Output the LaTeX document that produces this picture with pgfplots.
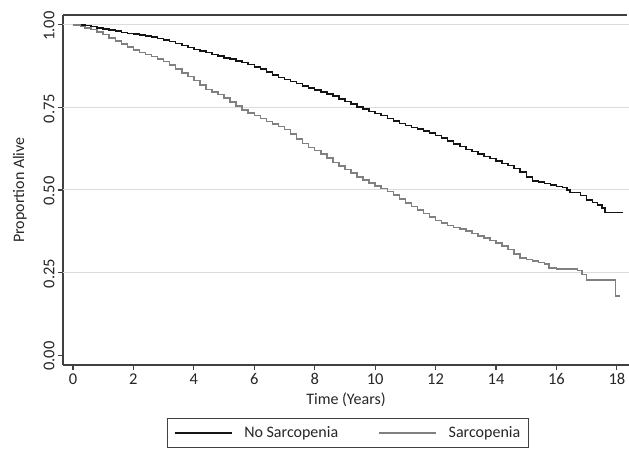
\documentclass[border=0pt]{standalone}
\usepackage{fontspec}
\setmainfont{Carlito}
\usepackage{pgfplots}
\pgfplotsset{compat=1.18}
\definecolor{axgray}{HTML}{404040}
\definecolor{gridgray}{HTML}{DCDCDC}
\definecolor{curvegray}{HTML}{808080}
\definecolor{curveblack}{HTML}{141414}
\begin{document}
\begin{tikzpicture}
\begin{axis}[
  scale only axis,
  width=566pt, height=350pt,
  xmin=-0.33, xmax=18.4,
  ymin=-0.03, ymax=1.03,
  axis lines=left,
  axis line style={-, draw=axgray, line width=1.1pt},
  tick style={draw=axgray, line width=1.1pt},
  tick align=outside,
  major tick length=5pt,
  xtick={0,2,...,18},
  ytick={0,0.25,0.5,0.75,1},
  yticklabels={0.00,0.25,0.50,0.75,1.00},
  extra y ticks={0.25,0.5,0.75,1},
  extra y tick labels={},
  extra y tick style={grid=major, major tick length=0pt, major grid style={draw=gridgray, line width=1pt}},
  /pgf/number format/assume math mode=true,
  ticklabel style={font=\fontsize{16.5}{19}\selectfont, text=black!85},
  yticklabel style={rotate=90, anchor=south, xshift=-1pt},
  xlabel={Time (Years)},
  ylabel={Proportion Alive},
  label style={font=\fontsize{16}{19}\selectfont, text=black!85},
  xlabel style={yshift=-1pt},
  ylabel style={yshift=5pt},
  legend columns=2,
  legend style={at={(0.5,0)}, anchor=north, yshift=-53pt, xshift=2pt, draw=axgray, line width=1pt,
    font=\fontsize{16}{19}\selectfont, text=black!85, inner xsep=6pt, inner ysep=6pt,
    /tikz/every odd column/.append style={column sep=10pt},
    /tikz/every even column/.append style={column sep=38pt}},
  legend image code/.code={\draw[#1] (0pt,0pt) -- (57pt,0pt);},
  clip=false,
]
\addplot[const plot, curveblack, line width=1.5pt] coordinates {
(0,1.000) (0.4,0.998) (0.6,0.995) (0.8,0.991) (1.0,0.987) (1.2,0.984) (1.4,0.981)
(1.6,0.977) (1.8,0.974) (2.0,0.972) (2.2,0.969) (2.4,0.966) (2.6,0.963) (2.8,0.959)
(3.0,0.954) (3.2,0.949) (3.4,0.943) (3.6,0.938) (3.8,0.932) (4.0,0.926) (4.2,0.921)
(4.4,0.916) (4.6,0.911) (4.8,0.906) (5.0,0.900) (5.2,0.896) (5.4,0.891) (5.6,0.886)
(5.8,0.880) (6.0,0.873) (6.2,0.866) (6.4,0.857) (6.6,0.849) (6.8,0.841) (7.0,0.834)
(7.2,0.828) (7.4,0.822) (7.6,0.815) (7.8,0.809) (8.0,0.803) (8.2,0.797) (8.4,0.791)
(8.6,0.784) (8.8,0.776) (9.0,0.768) (9.2,0.760) (9.4,0.752) (9.6,0.745) (9.8,0.738)
(10.0,0.732) (10.2,0.725) (10.4,0.717) (10.6,0.709) (10.8,0.702) (11.0,0.696)
(11.2,0.690) (11.4,0.685) (11.6,0.679) (11.8,0.672) (12.0,0.665) (12.2,0.657)
(12.4,0.648) (12.6,0.640) (12.8,0.631) (13.0,0.623) (13.2,0.616) (13.4,0.609)
(13.6,0.602) (13.8,0.595) (14.0,0.588) (14.2,0.581) (14.4,0.574) (14.6,0.565)
(14.8,0.555) (15.0,0.540) (15.2,0.528) (15.4,0.524) (15.6,0.519) (15.8,0.515)
(16.0,0.511) (16.2,0.507) (16.35,0.500) (16.45,0.492) (16.8,0.483) (17.0,0.470)
(17.2,0.462) (17.35,0.455) (17.5,0.446) (17.6,0.432) (18.2,0.432)
};
\addlegendentry{No Sarcopenia}
\addplot[const plot, curvegray, line width=1.5pt] coordinates {
(0,1.000) (0.25,0.995) (0.4,0.991) (0.6,0.986) (0.8,0.979) (1.0,0.971) (1.2,0.961)
(1.4,0.951) (1.6,0.942) (1.8,0.933) (2.0,0.924) (2.2,0.916) (2.4,0.910) (2.6,0.904)
(2.8,0.897) (3.0,0.889) (3.2,0.879) (3.4,0.867) (3.6,0.855) (3.8,0.843) (4.0,0.831)
(4.2,0.818) (4.4,0.805) (4.6,0.797) (4.8,0.789) (5.0,0.778) (5.2,0.766) (5.4,0.754)
(5.6,0.743) (5.8,0.733) (6.0,0.725) (6.2,0.717) (6.4,0.708) (6.6,0.700) (6.8,0.692)
(7.0,0.683) (7.2,0.669) (7.4,0.655) (7.6,0.641) (7.8,0.629) (8.0,0.619) (8.2,0.609)
(8.4,0.597) (8.6,0.584) (8.8,0.572) (9.0,0.562) (9.2,0.551) (9.4,0.540) (9.6,0.530)
(9.8,0.521) (10.0,0.512) (10.2,0.504) (10.4,0.496) (10.6,0.485) (10.8,0.472)
(11.0,0.460) (11.2,0.450) (11.4,0.440) (11.6,0.429) (11.8,0.418) (12.0,0.407)
(12.2,0.400) (12.4,0.393) (12.6,0.387) (12.8,0.382) (13.0,0.376) (13.2,0.368)
(13.4,0.360) (13.6,0.354) (13.8,0.347) (14.0,0.340) (14.2,0.331) (14.4,0.320)
(14.6,0.306) (14.8,0.294) (15.0,0.289) (15.2,0.285) (15.4,0.281) (15.6,0.276)
(15.75,0.264) (16.0,0.261) (16.7,0.256) (16.85,0.244) (17.0,0.228) (17.95,0.228)
(17.95,0.179) (18.1,0.179)
};
\addlegendentry{Sarcopenia\hspace{14pt}}
\draw[axgray, line width=1.1pt] (rel axis cs:0,1) -- (rel axis cs:0.996,1);
\coordinate (SW) at (rel axis cs:0,0);
\coordinate (NE) at (rel axis cs:1,1);
\end{axis}
\pgfresetboundingbox
\path[use as bounding box] ([shift={(-63pt,-100pt)}]SW) rectangle ([shift={(0pt,15pt)}]NE);
\end{tikzpicture}
\end{document}
